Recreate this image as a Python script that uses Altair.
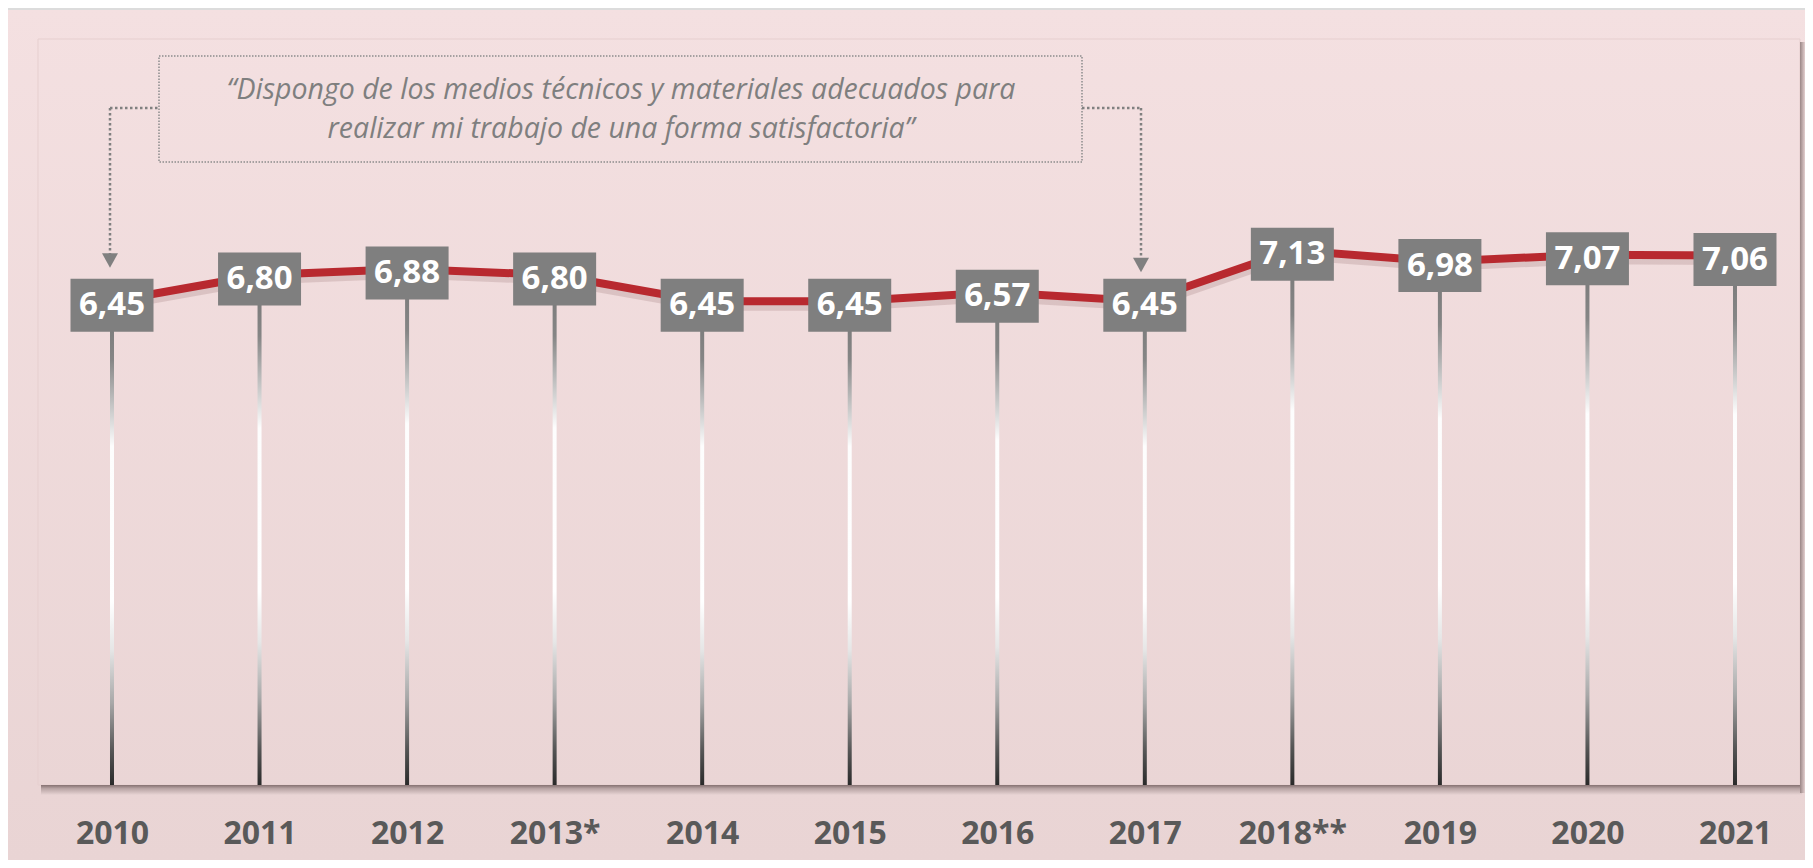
import altair as alt
import pandas as pd

# ---------------- data ----------------
years = ["2010", "2011", "2012", "2013*", "2014", "2015", "2016", "2017",
         "2018**", "2019", "2020", "2021"]
values = [6.45, 6.80, 6.88, 6.80, 6.45, 6.45, 6.57, 6.45, 7.13, 6.98, 7.07, 7.06]
value_labels = [f"{v:.2f}".replace(".", ",") for v in values]
quote_line_1 = "\u201cDispongo de los medios t\u00e9cnicos y materiales adecuados para"
quote_line_2 = "realizar mi trabajo de una forma satisfactoria\u201d"

df = pd.DataFrame({"i": list(range(len(years))), "year": years,
                   "v": values, "label": value_labels})
one = pd.DataFrame({"k": [0]})

# ---------------- layout ----------------
W, H = 1797, 852
x_scale = alt.Scale(domain=[-0.70485, 11.4745], nice=False, zero=False, padding=0)
y_scale = alt.Scale(domain=[-1.0, 10.36], nice=False, zero=False, padding=0)

label_expr = "[" + ",".join("'" + y + "'" for y in years) + "][datum.value]"
x_axis = alt.Axis(values=list(range(len(years))), labelExpr=label_expr,
                  domain=False, ticks=False, grid=False, labelPadding=0,
                  offset=-27, labelBaseline="middle", labelFont="Open Sans",
                  labelFontWeight="bold", labelFontSize=32, labelColor="#595959",
                  labelOverlap=False, labelFlush=False, zindex=1)

X = alt.X("i:Q", scale=x_scale, axis=x_axis, title=None)
Y = alt.Y("v:Q", scale=y_scale, axis=None, title=None)


def grad(stops, vertical=True):
    return alt.LinearGradient(
        gradient="linear", x1=0, y1=0,
        x2=0 if vertical else 1, y2=1 if vertical else 0,
        stops=[alt.GradientStop(color=c, offset=o) for o, c in stops])


# background
bg = alt.Chart(one).mark_rect(
    color=grad([(0, "#f4e0e1"), (1, "#e9d4d4")])
).encode(x=alt.value(0), x2=alt.value(W), y=alt.value(0), y2=alt.value(H))

top_strip = alt.Chart(one).mark_rule(color="#dcdcdc", strokeWidth=2).encode(
    x=alt.value(0), x2=alt.value(W), y=alt.value(1))

panel = alt.Chart(one).mark_rect(
    fillOpacity=0, stroke="#e6cfcf", strokeWidth=1
).encode(x=alt.value(30), x2=alt.value(1792), y=alt.value(31), y2=alt.value(777))

shadow_bottom = alt.Chart(one).mark_rect(
    color=grad([(0, "#857171"), (0.35, "#b7a3a3"), (1, "#e9d5d5")])
).encode(x=alt.value(33), x2=alt.value(1794), y=alt.value(777), y2=alt.value(787))

shadow_right = alt.Chart(one).mark_rect(
    color=grad([(0, "#9a8686"), (1, "#e3cfcf")], vertical=False)
).encode(x=alt.value(1792), x2=alt.value(1797), y=alt.value(34), y2=alt.value(785))

# vertical gradient stems
stems = alt.Chart(df).mark_bar(
    width=4,
    color=grad([(0, "#777777"), (0.12, "#858585"), (0.30, "#fdfdfd"),
                (0.62, "#ffffff"), (0.72, "#e6e6e6"), (0.83, "#a8a8a8"),
                (0.93, "#555555"), (1, "#2a2a2a")]),
).encode(x=X, y=Y, y2=alt.datum(0))

line_shadow = alt.Chart(df).mark_line(
    color="#7a5050", strokeWidth=9, opacity=0.18, yOffset=5
).encode(x=X, y=Y)

line = alt.Chart(df).mark_line(color="#B8292F", strokeWidth=8).encode(x=X, y=Y)

boxes = alt.Chart(df).mark_point(
    shape="M-1,-0.639L1,-0.639L1,0.639L-1,0.639Z", size=83 * 83,
    filled=True, color="#7f7f7f", opacity=1, strokeWidth=0, yOffset=4
).encode(x=X, y=Y)

box_text = alt.Chart(df).mark_text(
    font="Open Sans", fontSize=33, fontWeight="bold", color="white",
    yOffset=4, baseline="middle", align="center"
).encode(x=X, y=Y, text="label:N")

# annotation
dash = dict(color="#808080", strokeWidth=2.5, strokeDash=[2.5, 2.5])
quote_box = alt.Chart(one).mark_rect(
    fillOpacity=0, stroke="#8c8c8c", strokeWidth=1.5, strokeDash=[1.5, 1.5]
).encode(x=alt.value(151), x2=alt.value(1074), y=alt.value(48), y2=alt.value(154))

l_h = alt.Chart(one).mark_rule(**dash).encode(x=alt.value(102), x2=alt.value(151), y=alt.value(100))
l_v = alt.Chart(one).mark_rule(**dash).encode(x=alt.value(102), y=alt.value(100), y2=alt.value(246))
r_h = alt.Chart(one).mark_rule(**dash).encode(x=alt.value(1074), x2=alt.value(1133), y=alt.value(100))
r_v = alt.Chart(one).mark_rule(**dash).encode(x=alt.value(1133), y=alt.value(100), y2=alt.value(250))

tri = "M-1,-0.9L1,-0.9L0,0.9Z"
l_arrow = alt.Chart(one).mark_point(
    shape=tri, size=256, filled=True, color="#808080", opacity=1, strokeWidth=0
).encode(x=alt.value(102), y=alt.value(252.5))
r_arrow = alt.Chart(one).mark_point(
    shape=tri, size=256, filled=True, color="#808080", opacity=1, strokeWidth=0
).encode(x=alt.value(1133), y=alt.value(257))

quote_style = dict(font="Open Sans", fontStyle="italic", fontSize=28.5,
                   color="#7f7f7f", baseline="middle", align="center")
quote1 = alt.Chart(one).mark_text(text=quote_line_1, **quote_style).encode(
    x=alt.value(613), y=alt.value(81.5))
quote2 = alt.Chart(one).mark_text(text=quote_line_2, **quote_style).encode(
    x=alt.value(613), y=alt.value(120.5))

chart = alt.layer(
    bg, top_strip, panel, shadow_bottom, shadow_right, stems,
    line_shadow, line, boxes, box_text,
    quote_box, l_h, l_v, r_h, r_v, l_arrow, r_arrow, quote1, quote2,
).properties(
    width=W, height=H, autosize=alt.AutoSizeParams(type="none"),
    padding=0, background="#efdbdb",
).configure_view(strokeWidth=0)

chart.save("out.html", embed_options={"renderer": "svg", "actions": False})
